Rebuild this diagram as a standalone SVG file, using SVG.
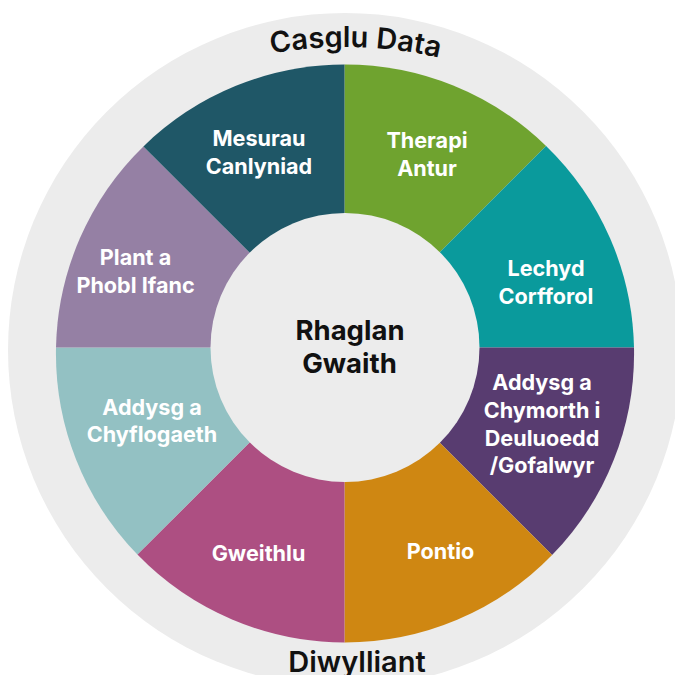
<svg xmlns="http://www.w3.org/2000/svg" width="675" height="675" viewBox="0 0 675 675">
<style>
.lbl{font-family:Inter,"Noto Sans","Liberation Sans",sans-serif;font-weight:700;font-size:21.6px;fill:#ffffff;text-anchor:middle}
.ctr{font-family:Inter,"Noto Sans","Liberation Sans",sans-serif;font-weight:700;font-size:27.5px;fill:#111111;text-anchor:middle}
.ring{font-family:Inter,"Noto Sans","Liberation Sans",sans-serif;font-weight:600;font-size:29px;fill:#111111;text-anchor:middle}
</style>
<defs>
<path id="topArc" d="M -75,467 A 420 420 0 0 1 765,467"/>
</defs>
<rect width="675" height="675" fill="#ffffff"/>
<circle id="outer-ring" cx="345" cy="350" r="337" fill="#ececec"/>
<text class="ring"><textPath href="#topArc" startOffset="670">Casglu Data</textPath></text>
<text class="ring" x="357" y="672">Diwylliant</text>

<g id="therapi-antur">
<path d="M344.5,347.5 L344.5,64.5 A289 289 0 0 1 546.1,145.9 Z" fill="#6fa32f"/>
<text class="lbl" x="427" y="148">Therapi</text>
<text class="lbl" x="427" y="176">Antur</text>
</g>
<g id="lechyd-corfforol">
<path d="M344.5,347.5 L546.1,145.9 A289 289 0 0 1 634,347.5 Z" fill="#0a9a9c"/>
<text class="lbl" x="546" y="276">Lechyd</text>
<text class="lbl" x="546" y="304">Corfforol</text>
</g>
<g id="addysg-chymorth">
<path d="M344.5,347.5 L634,347.5 A289 289 0 0 1 552.1,555.1 Z" fill="#583c70"/>
<text class="lbl" x="542" y="390">Addysg a</text>
<text class="lbl" x="542" y="418">Chymorth i</text>
<text class="lbl" x="542" y="446">Deuluoedd</text>
<text class="lbl" x="542" y="473">/Gofalwyr</text>
</g>
<g id="pontio">
<path d="M344.5,347.5 L552.1,555.1 A289 289 0 0 1 344.5,642.5 Z" fill="#cf8712"/>
<text class="lbl" x="440.5" y="559">Pontio</text>
</g>
<g id="gweithlu">
<path d="M344.5,347.5 L344.5,642.5 A289 289 0 0 1 137.4,554.6 Z" fill="#ad4f82"/>
<text class="lbl" x="258.5" y="561">Gweithlu</text>
</g>
<g id="addysg-chyflogaeth">
<path d="M344.5,347.5 L137.4,554.6 A289 289 0 0 1 56,347.5 Z" fill="#93c1c3"/>
<text class="lbl" x="152" y="415">Addysg a</text>
<text class="lbl" x="152" y="442">Chyflogaeth</text>
</g>
<g id="plant-pobl-ifanc">
<path d="M344.5,347.5 L56,347.5 A289 289 0 0 1 143.4,146.4 Z" fill="#9580a4"/>
<text class="lbl" x="135.5" y="265">Plant a</text>
<text class="lbl" x="135.5" y="293">Phobl Ifanc</text>
</g>
<g id="mesurau-canlyniad">
<path d="M344.5,347.5 L143.4,146.4 A289 289 0 0 1 344.5,64.5 Z" fill="#1f5767"/>
<text class="lbl" x="259" y="146">Mesurau</text>
<text class="lbl" x="259" y="173.5">Canlyniad</text>
</g>
<g id="rhaglan-gwaith">
<circle cx="345" cy="347.5" r="134.5" fill="#ececec"/>
<text class="ctr" x="350" y="340">Rhaglan</text>
<text class="ctr" x="349.5" y="373">Gwaith</text>
</g>
</svg>
